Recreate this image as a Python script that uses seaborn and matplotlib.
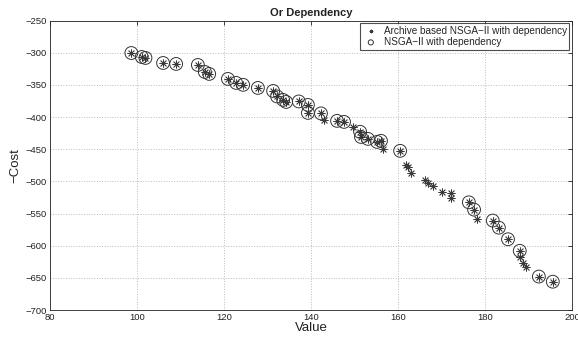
import matplotlib
matplotlib.use("Agg")
import matplotlib.pyplot as plt
import seaborn as sns
import pandas as pd

# NSGA-II with dependency (circles)
nsga_x = [98.7, 101.1, 101.95, 106.0, 109.0, 114.0, 115.6, 116.6, 120.9, 122.8,
          124.4, 127.8, 131.3, 132.2, 133.6, 134.3, 137.2, 139.3, 139.3, 142.3,
          146.0, 147.6, 151.3, 151.5, 153.1, 155.2, 156.1, 160.5, 176.3, 177.5,
          181.8, 183.2, 185.3, 188.0, 192.4, 195.6]
nsga_y = [-300.5, -306.7, -308.2, -316.0, -317.5, -319.1, -330.0, -333.0, -340.8, -347.0,
          -350.0, -354.8, -359.5, -368.0, -373.4, -376.6, -375.8, -381.2, -393.6, -394.4,
          -406.0, -407.6, -423.0, -431.0, -434.0, -438.7, -437.0, -452.6, -532.6, -544.0,
          -561.0, -572.0, -590.0, -608.0, -648.0, -656.0]

# Archive based NSGA-II with dependency (asterisks): shared points + extra ones
extra_x = [143.0, 149.7, 156.6, 161.8, 162.3, 163.0, 166.2, 166.9, 168.0, 170.1,
           172.2, 172.2, 178.2, 188.0, 188.7, 189.4]
extra_y = [-404.0, -415.0, -449.5, -474.4, -477.5, -486.8, -497.7, -502.3, -507.0, -516.3,
           -517.9, -525.6, -558.0, -618.0, -626.5, -632.8]
archive_x = nsga_x + extra_x
archive_y = nsga_y + extra_y

x_ticks = [80, 100, 120, 140, 160, 180, 200]
y_ticks = [-700, -650, -600, -550, -500, -450, -400, -350, -300, -250]

sns.set_style("white")
plt.rcParams['font.family'] = ['Liberation Sans', 'DejaVu Sans']
plt.rcParams['axes.unicode_minus'] = True

fig = plt.figure(figsize=(5.78, 3.43), dpi=100)
ax = fig.add_axes([0.0865, 0.0962, 0.903, 0.844])

df_a = pd.DataFrame({"Value": archive_x, "Cost": archive_y})
df_n = pd.DataFrame({"Value": nsga_x, "Cost": nsga_y})

sns.scatterplot(data=df_a, x="Value", y="Cost", marker=(8, 2, 0), s=28,
                color="#3a3a3a", linewidth=0.6, ax=ax,
                label="Archive based NSGA\u2212II with dependency", zorder=3)
sns.scatterplot(data=df_n, x="Value", y="Cost", marker="o", s=85,
                facecolors="none", edgecolor="#333333", linewidth=0.7, ax=ax,
                label="NSGA\u2212II with dependency", zorder=4)

ax.set_xlim(80, 200)
ax.set_ylim(-700, -250)
ax.set_xticks(x_ticks)
ax.set_yticks(y_ticks)
ax.set_xticklabels([str(v) for v in x_ticks])
ax.set_yticklabels([str(v).replace('-', '\u2212') for v in y_ticks])
ax.tick_params(direction='in', length=3, width=0.6, labelsize=6.8,
               top=True, right=True, colors='#222222', pad=2)
ax.grid(True, linestyle=':', color='#bbbbbb', linewidth=0.7)
for sp in ax.spines.values():
    sp.set_visible(True)
    sp.set_color('#222222')
    sp.set_linewidth(0.6)

ax.set_xlabel("Value", fontsize=9.5, color='#222222', labelpad=0)
ax.set_ylabel("\u2212Cost", fontsize=9.5, color='#222222', labelpad=3)
ax.set_title("Or Dependency", fontsize=8, fontweight='bold', color='#222222', pad=3)

leg = ax.legend(loc='upper right', fontsize=7.2, markerscale=0.4, frameon=True,
                fancybox=False, borderpad=0.25, handletextpad=0.5, labelspacing=0.15,
                borderaxespad=0.25, handlelength=1.6)
leg.get_frame().set_edgecolor('#222222')
leg.get_frame().set_linewidth(0.8)

fig.savefig("out.png", dpi=100)
